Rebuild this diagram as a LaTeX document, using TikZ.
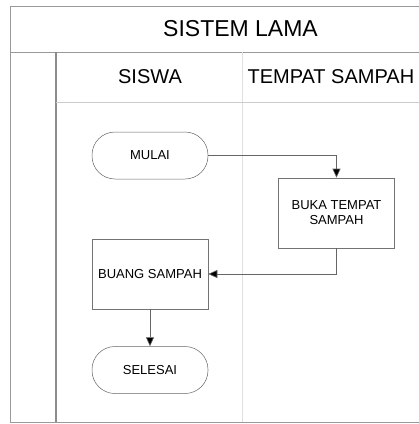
\documentclass[tikz,border=0pt]{standalone}
\usepackage{fontspec}
\setmainfont{Liberation Sans}
\usetikzlibrary{arrows.meta}
\begin{document}
\begin{tikzpicture}[x=1pt,y=-1pt,
  frame/.style={draw=black!40,line width=0.8pt},
  faint/.style={draw=black!12,line width=0.6pt},
  term/.style={draw=black!60,line width=0.5pt,rounded corners=23pt,minimum width=116pt,minimum height=47pt,inner sep=0pt,font=\fontsize{13}{15}\selectfont,text=black},
  proc/.style={draw=black!55,line width=0.6pt,minimum width=116pt,minimum height=70pt,inner sep=0pt,align=center,font=\fontsize{13}{15}\selectfont,text=black},
  flow/.style={draw=black!60,line width=0.6pt,-{Triangle[width=8pt,length=9pt,fill=black]}},
  hdr/.style={font=\fontsize{20}{24}\selectfont,text=black}
]
\useasboundingbox (0,0) rectangle (419,424);
% frame
\draw[frame] (420,6) -- (10,6) -- (10,422) -- (420,422);
\draw[frame] (10,52) -- (420,52);
\draw[draw=black!45,line width=1.2pt] (56,52) -- (56,422);
\draw[faint] (242,52) -- (242,422);
\draw[draw=black!20,line width=0.6pt] (56,102) -- (420,102);
% headers
\node[font=\fontsize{23}{27}\selectfont,text=black] (title) at (240.5,29) {SISTEM LAMA};
\node[hdr] (h1) at (150,77) {SISWA};
\node[hdr,anchor=west] (h2) at (244,77) {TEMPAT SAMPAH};
% nodes
\node[term] (mulai) at (150,155.5) {MULAI};
\node[proc] (buka) at (336.5,213) {BUKA TEMPAT\\SAMPAH};
\node[proc] (buang) at (150,274) {BUANG SAMPAH};
\node[term] (selesai) at (150,370) {SELESAI};
% connectors
\draw[flow] (mulai.east) -| (buka.north);
\draw[flow] (buka.south) |- (buang.east);
\draw[flow] (buang.south) -- (selesai.north);
\end{tikzpicture}
\end{document}
